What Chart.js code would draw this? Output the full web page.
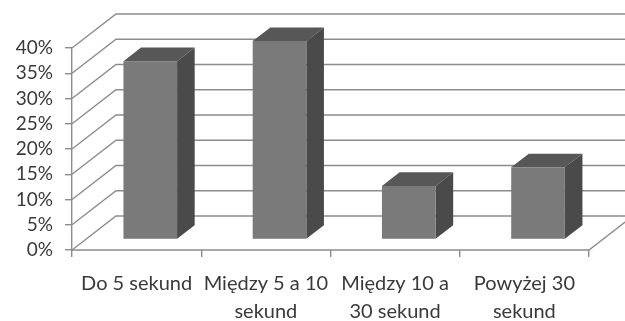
<!DOCTYPE html>
<html>
<head>
<meta charset="utf-8">
<script src="https://cdn.jsdelivr.net/npm/chart.js@4.4.1/dist/chart.umd.min.js"></script>
<style>
  html, body { margin: 0; padding: 0; background: #ffffff; }
  #wrap { width: 625px; height: 321px; }
</style>
</head>
<body>
<div id="wrap"><canvas id="chart" width="625" height="321"></canvas></div>
<script>
// Response time categories (multi-line labels) and their shares
const categories = [
  ["Do 5 sekund"],
  ["Między 5 a 10", "sekund"],
  ["Między 10 a", "30 sekund"],
  ["Powyżej 30", "sekund"]
];
const shares = [0.353, 0.393, 0.106, 0.143];
const yMax = 0.40;
const yStep = 0.05;

// Oblique 3D look: depth vector of the plot box and the slab a bar occupies in it
const DEPTH_X = 44;
const DEPTH_Y = 34;
const BAR_FRONT = 0.31;
const BAR_BACK = 0.71;
const GRID_COLOR = '#8c8c8c';
const TEXT_COLOR = '#3a3a3a';
const FONT = 'Lato, "Open Sans", sans-serif';

const box3d = {
  id: 'box3d',
  beforeDatasetsDraw(chart) {
    const { ctx, chartArea: a, scales: { x, y } } = chart;
    ctx.save();
    ctx.strokeStyle = GRID_COLOR;
    ctx.lineWidth = 1.4;
    // side wall diagonals + back wall lines for every value tick
    y.ticks.forEach(t => {
      const py = y.getPixelForValue(t.value);
      ctx.beginPath();
      ctx.moveTo(a.left, py);
      ctx.lineTo(a.left + DEPTH_X, py - DEPTH_Y);
      ctx.lineTo(a.right + DEPTH_X, py - DEPTH_Y);
      ctx.stroke();
    });
    // floor: front edge and right edge
    const py0 = y.getPixelForValue(0);
    ctx.beginPath();
    ctx.moveTo(a.left, py0);
    ctx.lineTo(a.right, py0);
    ctx.lineTo(a.right + DEPTH_X, py0 - DEPTH_Y);
    ctx.stroke();
    ctx.restore();
  },
  afterDatasetsDraw(chart) {
    const { ctx } = chart;
    const meta = chart.getDatasetMeta(0);
    const fx = DEPTH_X * BAR_FRONT, fy = DEPTH_Y * BAR_FRONT;
    const dx = DEPTH_X * (BAR_BACK - BAR_FRONT), dy = DEPTH_Y * (BAR_BACK - BAR_FRONT);
    ctx.save();
    meta.data.forEach(bar => {
      const { x, y, base, width } = bar.getProps(['x', 'y', 'base', 'width'], true);
      const l = x - width / 2 + fx, r = x + width / 2 + fx;
      const top = y - fy, bot = base - fy;
      // top face
      ctx.fillStyle = '#575757';
      ctx.beginPath();
      ctx.moveTo(l, top); ctx.lineTo(l + dx, top - dy);
      ctx.lineTo(r + dx, top - dy); ctx.lineTo(r, top);
      ctx.closePath(); ctx.fill();
      // side face
      ctx.fillStyle = '#4a4a4a';
      ctx.beginPath();
      ctx.moveTo(r, top); ctx.lineTo(r + dx, top - dy);
      ctx.lineTo(r + dx, bot - dy); ctx.lineTo(r, bot);
      ctx.closePath(); ctx.fill();
      // front face
      ctx.fillStyle = '#7a7a7a';
      ctx.fillRect(l, top, r - l, bot - top);
    });
    ctx.restore();
  }
};

new Chart(document.getElementById('chart'), {
  type: 'bar',
  data: {
    labels: categories,
    datasets: [{
      data: shares,
      backgroundColor: 'rgba(0,0,0,0)',
      borderWidth: 0,
      barPercentage: 0.415,
      categoryPercentage: 1
    }]
  },
  options: {
    responsive: false,
    animation: false,
    layout: { padding: { left: 0, right: 36, top: 48, bottom: 0 } },
    plugins: { legend: { display: false }, tooltip: { enabled: false } },
    scales: {
      x: {
        afterFit(s) { s.height = 71; },
        border: { display: false },
        grid: { drawOnChartArea: false, tickLength: 7, color: GRID_COLOR, lineWidth: 1.4, offset: true },
        ticks: { color: TEXT_COLOR, font: { family: FONT, size: 20, lineHeight: 1.4 }, padding: 13, maxRotation: 0, autoSkip: false }
      },
      y: {
        min: 0,
        max: yMax,
        afterFit(s) { s.width = 72; },
        border: { display: true, color: GRID_COLOR, width: 1.4 },
        grid: { drawOnChartArea: false, tickLength: 7, color: GRID_COLOR, lineWidth: 1.4 },
        ticks: {
          stepSize: yStep,
          autoSkip: false,
          color: TEXT_COLOR,
          font: { family: FONT, size: 19 },
          padding: 12,
          callback: v => Math.round(v * 100) + '%'
        }
      }
    }
  },
  plugins: [box3d]
});
</script>
</body>
</html>
